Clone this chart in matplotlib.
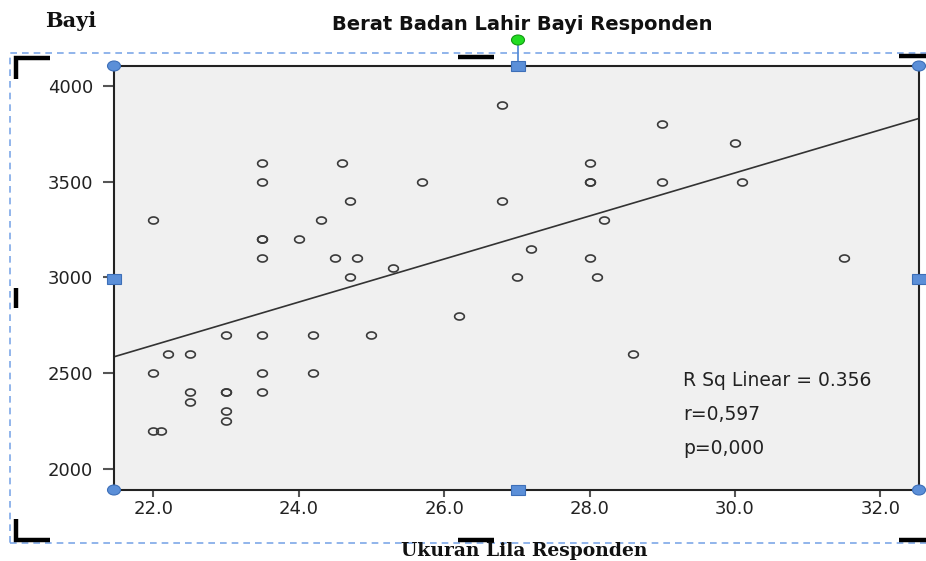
import numpy as np
import matplotlib
matplotlib.use("Agg")
import matplotlib.pyplot as plt
from matplotlib.lines import Line2D
from matplotlib.patches import Ellipse, Rectangle

# ---- data -------------------------------------------------------------------
lila = [22.0, 22.0, 22.0, 22.1, 22.2, 22.5, 22.5, 22.5,
        23.0, 23.0, 23.0, 23.0, 23.0,
        23.5, 23.5, 23.5, 23.5, 23.5, 23.5, 23.5, 23.5,
        24.0, 24.2, 24.2, 24.3, 24.5, 24.6, 24.7, 24.7, 24.8,
        25.0, 25.3, 25.7, 26.2, 26.8, 26.8, 27.0, 27.2,
        28.0, 28.0, 28.0, 28.0, 28.1, 28.2, 28.6,
        29.0, 29.0, 30.0, 30.1, 31.5]
bbl = [3300, 2500, 2200, 2200, 2600, 2600, 2400, 2350,
       2700, 2400, 2400, 2300, 2250,
       3600, 3500, 3200, 3200, 3100, 2700, 2500, 2400,
       3200, 2700, 2500, 3300, 3100, 3600, 3400, 3000, 3100,
       2700, 3050, 3500, 2800, 3900, 3400, 3000, 3150,
       3600, 3500, 3500, 3100, 3000, 3300, 2600,
       3800, 3500, 3700, 3500, 3100]
xticks = [22.0, 24.0, 26.0, 28.0, 30.0, 32.0]
yticks = [2000, 2500, 3000, 3500, 4000]
stats = ["R Sq Linear = 0.356", "r=0,597", "p=0,000"]

W, H = 926, 561
fig = plt.figure(figsize=(W / 100, H / 100), dpi=100)
fig.patch.set_facecolor("white")


def fx(px):
    return px / W


def fy(py):
    return 1 - py / H


ax = fig.add_axes([fx(114), fy(490), (919 - 114) / W, (490 - 66) / H])
ax.set_facecolor("#f0f0f0")
ax.set_xlim(21.46, 32.53)
ax.set_ylim(1890, 4104)

# slightly squashed circle, like the stretched screenshot
t = np.linspace(0, 2 * np.pi, 40)
oval = list(zip(np.cos(t), 0.72 * np.sin(t)))
ax.plot(lila, bbl, ls="none", marker=oval, ms=7, mfc="none",
        mec="#3a3a3a", mew=1.2)

k, b = np.polyfit(lila, bbl, 1)
xs = np.array(ax.get_xlim())
ax.plot(xs, k * xs + b, color="#333333", lw=1.2)

ax.set_xticks(xticks)
ax.set_xticklabels([f"{v:.1f}" for v in xticks])
ax.set_yticks(yticks)
ax.tick_params(axis="y", length=8, width=1.5, pad=7, color="#555555",
               labelsize=13, labelcolor="#222222")
ax.tick_params(axis="x", length=5, width=1.5, pad=2, color="#555555",
               labelsize=13, labelcolor="#222222")
for s in ax.spines.values():
    s.set_linewidth(1.5)
    s.set_color("#222222")

for i, s in enumerate(stats):
    fig.text(fx(683), fy(380 + 34 * i), s, fontsize=13.5, color="#222222",
             ha="left", va="center")

fig.text(fx(522), fy(25), "Berat Badan Lahir Bayi Responden", fontsize=14,
         fontweight="bold", color="#111111", ha="center", va="center")
fig.text(fx(45), fy(21), "Bayi", fontsize=15, family="DejaVu Serif",
         fontweight="bold", color="#111111", ha="left", va="center")
fig.text(fx(524), fy(551), "Ukuran Lila Responden", fontsize=13.5,
         family="DejaVu Serif", fontweight="bold", color="#111111",
         ha="center", va="center")

# ---- SPSS chart-editor selection frame ---------------------------------------
tf = fig.transFigure
fig.add_artist(Rectangle((fx(10), fy(543)), (940 - 10) / W, (543 - 53) / H,
                         fill=False, ec="#7ea8e8", lw=1.2, ls=(0, (4, 3)),
                         transform=tf))
brackets = [[(16, 79), (16, 58), (50, 58)],
            [(458, 57), (494, 57)],
            [(899, 56), (926, 56)],
            [(16, 288), (16, 308)],
            [(16, 519), (16, 540), (50, 540)],
            [(458, 540), (494, 540)],
            [(899, 540), (926, 540)]]
for pts in brackets:
    px, py = zip(*pts)
    fig.add_artist(Line2D([fx(p) for p in px], [fy(p) for p in py],
                          color="black", lw=3.2, solid_capstyle="butt",
                          solid_joinstyle="miter", transform=tf))

blue, blue_edge = "#5b8fd8", "#3d6fb8"
fig.add_artist(Line2D([fx(518), fx(518)], [fy(44), fy(62)], color=blue,
                      lw=1.3, transform=tf))
for cx, cy in [(114, 66), (919, 66), (114, 490), (919, 490)]:
    fig.add_artist(Ellipse((fx(cx), fy(cy)), 13 / W, 10 / H, fc=blue,
                           ec=blue_edge, lw=0.8, transform=tf, zorder=5))
for cx, cy in [(518, 66), (518, 490), (114, 279), (919, 279)]:
    fig.add_artist(Rectangle((fx(cx - 7), fy(cy + 5)), 14 / W, 10 / H,
                             fc=blue, ec=blue_edge, lw=0.8, transform=tf,
                             zorder=5))
fig.add_artist(Ellipse((fx(518), fy(40)), 13 / W, 10 / H, fc="#22dd22",
                       ec="#129912", lw=0.8, transform=tf, zorder=5))

fig.savefig("out.png", dpi=100)
